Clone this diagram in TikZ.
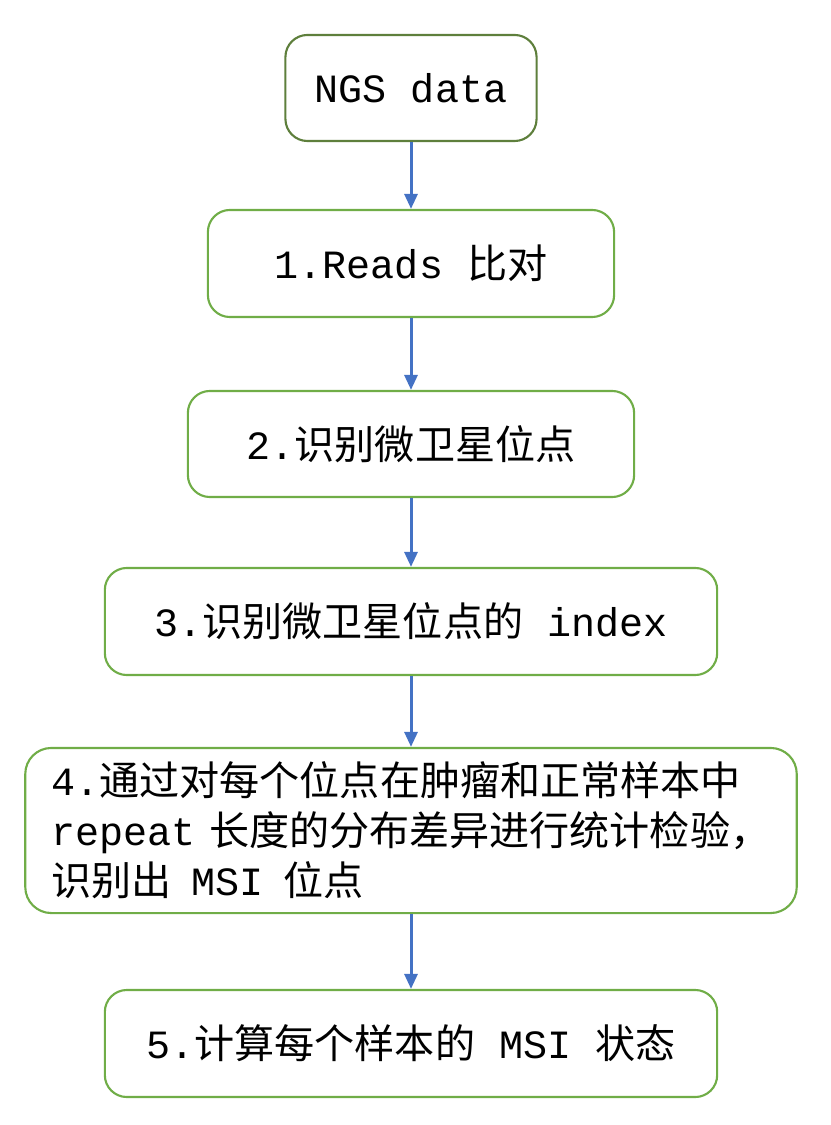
\documentclass[tikz,border=0pt]{standalone}
\usepackage{fontspec}
\setmainfont{Liberation Mono}
\newfontfamily\cjk{Noto Sans CJK SC}
\usetikzlibrary{arrows.meta}
\definecolor{boxgreen}{HTML}{70AD47}
\definecolor{olive}{HTML}{5E7F3C}
\definecolor{arrowblue}{HTML}{4472C4}
\tikzset{
  stepbox/.style={draw=boxgreen, line width=0.6pt, rounded corners=0.22cm, fill=white,
    minimum height=1.07cm, align=center, inner sep=0pt,
    font=\fontsize{11.4pt}{14.2pt}\selectfont},
  flow/.style={draw=arrowblue, line width=0.85pt, -{Triangle[width=0.13cm,length=0.15cm]}}
}
\begin{document}
\begin{tikzpicture}[x=0.01cm,y=-0.01cm]
\useasboundingbox (0,0) rectangle (830,1125);
\node[stepbox, draw=olive, minimum width=2.51cm, minimum height=1.06cm] (b0) at (411,88) {NGS data};
\node[stepbox, minimum width=4.06cm] (b1) at (411,263.5) {1.Reads {\cjk 比对}};
\node[stepbox, minimum width=4.46cm, minimum height=1.06cm] (b2) at (411,444) {2.{\cjk 识别微卫星位点}};
\node[stepbox, minimum width=6.12cm] (b3) at (411,621.5) {3.{\cjk 识别微卫星位点的} index};
\node[stepbox, minimum width=7.71cm, minimum height=1.65cm, text width=7.19cm, align=left, rounded corners=0.26cm] (b4) at (411,830.5)
  {4.{\cjk 通过对每个位点在肿瘤和正常样本中}\\repeat {\cjk 长度的分布差异进行统计检验，}\\{\cjk 识别出}\, MSI\, {\cjk 位点}};
\node[stepbox, minimum width=6.12cm] (b5) at (411,1043.5) {5.{\cjk 计算每个样本的} MSI {\cjk 状态}};
\draw[flow] (b0) -- (b1);
\draw[flow] (b1) -- (b2);
\draw[flow] (b2) -- (b3);
\draw[flow] (b3) -- (b4);
\draw[flow] (b4) -- (b5);
\end{tikzpicture}
\end{document}
